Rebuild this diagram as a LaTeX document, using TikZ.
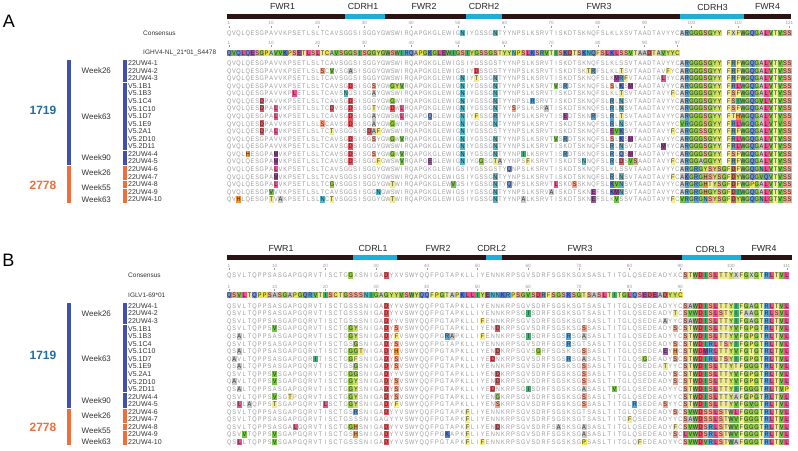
\documentclass[tikz,border=0pt]{standalone}
\usepackage{fontspec}
\setmainfont{Liberation Sans}
\newfontfamily\seqff{Liberation Sans}[FakeStretch=0.85]

% frame and group colours
\definecolor{barbrown}{HTML}{2B1414}
\definecolor{cdrcyan}{HTML}{1EAFD6}
\definecolor{grpblue}{HTML}{4352A8}
\definecolor{grporange}{HTML}{EE6E3C}
\definecolor{donorteal}{HTML}{1F6FA6}
\definecolor{seqgrey}{HTML}{9A9A9A}
\definecolor{seqdark}{HTML}{262626}
\definecolor{labgrey}{HTML}{333333}
% residue colours
\definecolor{aaA}{HTML}{C8C8C8}
\definecolor{aaR}{HTML}{5AA0D2}
\definecolor{aaN}{HTML}{56B6C4}
\definecolor{aaD}{HTML}{E2545C}
\definecolor{aaC}{HTML}{F2E24A}
\definecolor{aaQ}{HTML}{6C8FDC}
\definecolor{aaE}{HTML}{A64CA6}
\definecolor{aaG}{HTML}{9ACD4E}
\definecolor{aaH}{HTML}{F0943A}
\definecolor{aaI}{HTML}{3FAF6E}
\definecolor{aaL}{HTML}{E8508C}
\definecolor{aaK}{HTML}{4F75D8}
\definecolor{aaM}{HTML}{9B3D98}
\definecolor{aaF}{HTML}{F6EE8A}
\definecolor{aaP}{HTML}{EEE648}
\definecolor{aaS}{HTML}{F3A38C}
\definecolor{aaT}{HTML}{F1EA94}
\definecolor{aaW}{HTML}{76BC64}
\definecolor{aaY}{HTML}{CDE060}
\definecolor{aaV}{HTML}{72C244}
\definecolor{aaX}{HTML}{D6D6D6}

\tikzset{
  seqline/.style={inner sep=0pt, anchor=base west, font=\seqff\fontsize{6.6}{6.6}\selectfont, text=seqgrey},
  rulenum/.style={inner sep=0pt, font=\fontsize{4.6}{5}\selectfont, text=seqgrey},
  ruletick/.style={draw=seqgrey, line width=0.4pt},
  rowlabel/.style={inner sep=0pt, anchor=west, font=\fontsize{7}{8}\selectfont, text=labgrey},
  reflabel/.style={inner sep=0pt, anchor=west, font=\fontsize{6.5}{7}\selectfont, text=labgrey},
  weeklabel/.style={inner sep=0pt, anchor=west, font=\fontsize{8}{9}\selectfont, text=labgrey},
  regionlabel/.style={inner sep=0pt, font=\fontsize{8.8}{9}\selectfont, text=black!85},
  panellabel/.style={inner sep=0pt, font=\fontsize{18}{18}\selectfont},
  donorlabel/.style={inner sep=0pt, font=\bfseries\fontsize{12}{12}\selectfont},
}

% one row of residues in a single node: lowercase letters get a coloured box
\newcommand\seqrow[4]{%
  \def\aapitch{#3pt}%
  \pgfmathsetmacro\aaxs{#1-0.5*#3}%
  \pgfmathsetmacro\aaybase{#2+2.3}%
  \node[seqline] at (\aaxs,\aaybase) {\aaloop#4\relax};}
\def\aaloop#1{\ifx#1\relax\else\aaone#1\expandafter\aaloop\fi}
\def\aaone#1{%
  \ifx#1-%
    \hbox to \aapitch{}%
  \else
    \ifnum`#1>96
      \uppercase{\def\aachar{#1}}%
      \rlap{\color{aa\aachar}\rule[-1pt]{\aapitch}{6.6pt}}%
      \hbox to \aapitch{\hss\color{seqdark}\aachar\hss}%
    \else
      \hbox to \aapitch{\hss#1\hss}%
    \fi
  \fi}
\newcommand\rowA[2]{\pgfmathsetmacro\rowy{63.3+#1*7.56}\seqrow{229}{\rowy}{4.67}{#2}}
\newcommand\rowB[2]{\pgfmathsetmacro\rowy{306+#1*7.56}\seqrow{229}{\rowy}{5.07}{#2}}
% position ruler
\newcommand\ruler[4]{%
  \foreach \p in {#4}{%
    \pgfmathsetmacro\rx{#1+(\p-1)*#2}
    \node[rulenum] at (\rx,#3) {\p};
    \draw[ruletick] (\rx,#3+2.2) -- (\rx,#3+4.4);}}
% group bar over rows #4..#5
\newcommand\grpbar[5]{\fill[#1] (#2,{#3+#4*7.56-3.3}) rectangle ++(4.2,{(#5-#4)*7.56+6.6});}

\begin{document}
\begin{tikzpicture}[x=1pt,y=-1pt]
  % Canvas
  \useasboundingbox (0,0) rectangle (798,450);
  \fill[white] (0,0) rectangle (798,450);

  % Panel letters
  \node[panellabel] (panA) at (9,21.7) {A};
  \node[panellabel] (panB) at (8.5,260) {B};

  % Region bar, heavy chain
  \fill[barbrown] (227,13.8) rectangle (791,18.8);
  \fill[cdrcyan] (345,13.8) rectangle (385,18.8);
  \fill[cdrcyan] (466,13.8) rectangle (502,18.8);
  \fill[cdrcyan] (680,13.8) rectangle (743.5,18.8);
  \node[regionlabel] (fwr1A) at (282.5,6.3) {FWR1};
  \node[regionlabel] (cdr1A) at (363,6.3) {CDRH1};
  \node[regionlabel] (fwr2A) at (424,6.3) {FWR2};
  \node[regionlabel] (cdr2A) at (484,6.3) {CDRH2};
  \node[regionlabel] (fwr3A) at (599,6.3) {FWR3};
  \node[regionlabel] (cdr3A) at (712.5,7.5) {CDRH3};
  \node[regionlabel] (fwr4A) at (767.5,6.3) {FWR4};

  % Region bar, light chain
  \fill[barbrown] (227,254.5) rectangle (792,259.5);
  \fill[cdrcyan] (353,254.5) rectangle (397,259.5);
  \fill[cdrcyan] (486,254.5) rectangle (502,259.5);
  \fill[cdrcyan] (682,254.5) rectangle (741,259.5);
  \node[regionlabel] (fwr1B) at (281,248) {FWR1};
  \node[regionlabel] (cdr1B) at (373,248) {CDRL1};
  \node[regionlabel] (fwr2B) at (438,248) {FWR2};
  \node[regionlabel] (cdr2B) at (491.7,248) {CDRL2};
  \node[regionlabel] (fwr3B) at (580,248) {FWR3};
  \node[regionlabel] (cdr3B) at (710,249) {CDRL3};
  \node[regionlabel] (fwr4B) at (764,248) {FWR4};

  % Reference labels
  \node[reflabel] (consA) at (143,32.8) {Consensus};
  \node[reflabel] (germA) at (143,52.8) {IGHV4-NL\_21*01\_S4478};
  \node[reflabel] (consB) at (128,275.2) {Consensus};
  \node[reflabel] (germB) at (128,295) {IGLV1-69*01};

  % Sample names
  \foreach \nm [count=\k from 0] in {22UW4-1,22UW4-2,22UW4-3,V5.1B1,V5.1B3,V5.1C4,V5.1C10,V5.1D7,V5.1E9,V5.2A1,V5.2D10,V5.2D11,22UW4-4,22UW4-5,22UW4-6,22UW4-7,22UW4-8,22UW4-9,22UW4-10}{
    \node[rowlabel] (nmA\k) at (128,63.3+\k*7.56) {\nm};
    \node[rowlabel] (nmB\k) at (128,306+\k*7.56) {\nm};
  }

  % Donor and week bars
  \foreach \y in {63.3,306}{
    \grpbar{grpblue}{67}{\y}{0}{13}
    \grpbar{grporange}{67}{\y}{14}{18}
    \grpbar{grpblue}{123}{\y}{0}{2}
    \grpbar{grpblue}{123}{\y}{3}{11}
    \grpbar{grpblue}{123}{\y}{12}{13}
    \grpbar{grporange}{123}{\y}{14}{15}
    \grpbar{grporange}{123}{\y}{16}{16}
    \grpbar{grporange}{123}{\y}{17}{18}
  }

  % Week labels
  \node[weeklabel] (w26A) at (81.5,70.9) {Week26};
  \node[weeklabel] (w63A) at (81.5,116.2) {Week63};
  \node[weeklabel] (w90A) at (81.5,157.8) {Week90};
  \node[weeklabel] (v26A) at (81.5,172.9) {Week26};
  \node[weeklabel] (v55A) at (81.5,188) {Week55};
  \node[weeklabel] (v63A) at (81.5,199.4) {Week63};
  \node[weeklabel] (w26B) at (81.5,313.6) {Week26};
  \node[weeklabel] (w63B) at (81.5,358.9) {Week63};
  \node[weeklabel] (w90B) at (81.5,400.5) {Week90};
  \node[weeklabel] (v26B) at (81.5,415.6) {Week26};
  \node[weeklabel] (v55B) at (81.5,430.7) {Week55};
  \node[weeklabel] (v63B) at (81.5,442.1) {Week63};

  % Donor labels
  \node[donorlabel, text=donorteal] (d1719A) at (43,110.7) {1719};
  \node[donorlabel, text=grporange] (d2778A) at (43,185) {2778};
  \node[donorlabel, text=donorteal] (d1719B) at (43,355) {1719};
  \node[donorlabel, text=grporange] (d2778B) at (43,427.7) {2778};

  % Rulers
  \ruler{229}{4.67}{23.3}{1,10,20,30,40,50,60,70,80,90,100,110,121}
  \ruler{229}{4.67}{43}{1,10,20,30,40,50,60,70,80,90,97}
  \ruler{229}{5.07}{265.5}{1,10,20,30,40,50,60,70,80,90,100,111}
  \ruler{229}{5.07}{286.5}{1,10,20,30,40,50,60,70,80,90}

  % Heavy chain alignment
  \seqrow{229}{32.8}{4.67}{QVQLQESGPA VVKPSETLSL TCAVSGGSIS GGYGWSWIRQ APGKGLEWIG nIYGSSGnTY YNPSLKSRVT ISKDTSKNQF SLKLXSVTAA DTAVYYC argggsgyy- fxfwgqgalvtvss}
  \seqrow{229}{52.8}{4.67}{qvqlqesgpa vvkpsetlsl tcavsggsis ggygwswirq apgkglewig siygssgsty ynpslksrvt iskdtsknqf slklssvtaa dtavyyc}
  \rowA{0}{QVQLQESGPA VVKPSETLSL TCAVSGGSIS GGYGWSWIRQ APGKGLEWIG SIYGSSGSTY YNPSLKSRVT ISKDTSKNQF SLKLSSVTAA DTAVYYC argggsgyy- frfwgqgalvtvss}
  \rowA{1}{QVQLQESGPA VVKPSETLSL sCvVSGaSIS GGYGWSWIRQ APGKGLEWIG SIYdSSGSTY YNPSLKSRVT ISKDTSKtrF SLKLtSVTAA DTAVfYC argggsgyy- frfwgqgalvtvss}
  \rowA{2}{QVQLQESGPA VVKPSETLSL TCAVSGGSIS GGYGWSWIRQ APGKGLEWIG nIYtSSGnTY YNPSLKSRVT ISKDTSKNQF SLKmrfVTAA DTAlYYC argggsgyy- frfwgqgalvtvss}
  \rowA{3}{QVQLQESGPA VVKPSETLSL TCAVSGdSIS GsYGWgyvRQ APGKGLEWIG nIYGSSGnTY YNPSLKSRVT vSrDTSKNQF SLsLkSmTAA DTAVYYC argggsgyy- frlwgqgalvtvss}
  \rowA{4}{QVQLQESGPA VVKPlETLSL TCAVSnGSIS GaYGWSWIRQ APGKGLEWIG nIYGSSGnTY YNPSLKSRVT ISKDTSKNQF SLKLtSVTAA DTAVYfC argggsgyy- fsfwgqgalvtvss}
  \rowA{5}{QVQLQESdPA VVKPSETLSL TCAVSGdSIS GGYGWgWIRQ APGKGLEWIG nIYGSSGnTY YNPSLrSRVT ISKDTSKNQF SLrLnSVTAA DTAVYYC argggsgyy- fsiwgqgvlvtvss}
  \rowA{6}{QVQLQESdPA lVKPSETLSL TCdVSGdSIS GtYGWdWlRQ APGKGLEWIG nIYGSSGnTY YsPSLKSRaT ISKDTSKNQF SLrLnSVTAA DTAVYYC argggsgyy- fsfwgqgalvtvss}
  \rowA{7}{QVQLQESGPA lVKPSETLSL TCAVSGdSIS GaYGWSWlRQ APGqGLEWIG nIYfSSGrTY YNPSLKSRVT ISeDTSKNrF SLrLtSVTAA DTAVYYC argggsgyy- fthwgqgalvtvss}
  \rowA{8}{QVQLQESdPA VVKPSETLSL sCAVSGdSIS GaYGWgWIRQ APGKGLEWIG nIYGSSGnTY YNPSLKSRVT ISKDTSKNQF SLrLnSVTAA DTAVYYC vrgggsgyy- frlwgqgalvtvss}
  \rowA{9}{QVQLQESdPA lVKPSETLSL TCtVSGGSIS dafGWSWIRQ APGKGLEWIG nIYGSSGSTY YNPSLKSRVT ISKDTSKNQF SLevkSVTAA DTAVYfC arggssgyy- frfwgqgalvtvss}
  \rowA{10}{QVQLQESGPA VVKPSETLSL TCAVSGdSIS GsYGWgWvRQ APGKGLEWIG nIYGSSGnTY YNPSLKSRVT vSrDTSKNQF SLsLkSmTAA DTAVYYC argggsgyy- frlwgqgalvtvss}
  \rowA{11}{QVQLQESGPA VVKPSETLSL TCAVSGdSIS GGYGWSWIRQ APGKGLEWIG nIYGSSGnTY YNPSLKSRVT ISKDTSKNQF SLrLnSVTAA DTAmYYC argggsgyy- frlwgqgalvtvss}
  \rowA{12}{QVQLhESGPA mVKPSETLSL TCAVSGdSIS GsYGWgWvRQ APGKGLEWIG nIYGSSGnTY YNPiLKSRVT ISrDTSKNQF SLrLqSmTAA DTAVYYC argggsgyy- fsfwgqgalvtvss}
  \rowA{13}{QVQLQESGPA mVKPSETLSL TCAVSGdSIS GGfGWSWvRQ APGeGLEWIG nIYGgSGtaY YNPSfKSRVT ISKDTSnNQF SLrLdSvsAA DTAVYfC arggaggyy- frfwgqgalvtvss}
  \rowA{14}{QVQLQESGPA lVKPSETLSL TCAVSGGSIS GGYGWSWIRQ APGKGLEWIG SIYGSSGSTY qNPSLKSRVT ISKDTSKNQF SLKLSSVTAA DTAVYYC argrgysysgfdfwgqgnlvtvss}
  \rowA{15}{QVQLQESGPA mVKPSETLSL TCAVSGGSIS GGYGWSWIRQ APGKGLEWIG SIYGSSGnTY YNPSLKSRVT ISKDTSKNQF SLrLnSVTAA DTAVYfC akgrghsysgfdywgqgvqvtvss}
  \rowA{16}{QVQLQESGPA lVKPSETLSL TCgVSGGSIS GGYGWtWIRQ APGKGLEWvG SIYGSSGnTY qNPSLKSRVT lSKDsSKNQF SLkvnSVTAA DTAVYYC argrghtysgfdfwgpgalvtvss}
  \rowA{17}{QVQLQESGPv VVKPSETLSL TCAVSGGSIS GGnGWSWIRQ APGKGLEWIG SIYGSSGnTY YNPSLKSRVa ISKDTSKNeF SLkmnSVTAA DTAVYYC argrghgysgfdiwgqgalvtvss}
  \rowA{18}{QVhLQESGPt VaKPSETLSL nCtVSGGSIS GGYGWtWIRQ APGKGLEWIG SIYGSSGnTY YNPaLKSRVT ISKDTSKNeF SLKvSSVTAA DTAVYfC vrgrgnsysgfdywgqgnlgtvss}

  % Light chain alignment
  \seqrow{229}{275.2}{5.07}{QSVLTQPPSA SGAPGQRVTI SCTGgXSNIG AdYXVSWYQQ FPGTAPKLLI YENNKRPSGV SDRFSGSKSG XSASLTITGL QSEDEADYXC stwdislttyxfgxgtrltvl}
  \seqrow{229}{295}{5.07}{qsvltqppsa sgapgqrvti sctgsssnig agyyvswyqq fpgtapklli yennkrpsgv sdrfsgsksg tsasltitgl qsedeadyyc}
  \rowB{0}{QSVLTQPPSA SGAPGQRVTI SCTGSSSNIG AdYYVSWYQQ FPGTAPKLLI YENNKRPSGV SDRFSGSKSG TSASLTITGL QSEDEADYYC sawdislttyifgagtrltvl}
  \rowB{1}{QSVLTQPPSA SGAPGQRVTI SCTGSSSNIG AdYYVSWYQQ FPGTAPKLLI YENNKRPSGi SDRFSGSKSG TSASLTITGL QSEDEADYtC svwdislstyifaagtrlsvl}
  \rowB{2}{QSVLTQPPSA SGAPGQRVTI SCTGSSSNIG AdYYVSWYQQ FPGTAPKLLI fENNKRPSGV SDRFSGSKSG TSASLTITGL QSEDEAaYYC sawdislttyifgagtrltvl}
  \rowB{3}{QSVLTQPPSv SGAPGQRVTI SCTGgySNIG AdYsVSWYQQ FPGTAPKLLI YENdKRPSGV SDRFSGSKSG sSASLTITGL QSEDEADYsC stwdislttyvfgpgtrltvl}
  \rowB{4}{QSaLTQPPSA SGAPGQRVTI SCTGgySNIG AdYfVSWYQQ FPGraPKLLI fENNKRPSGi SDRFSGSrSG aSASLTITGL QSEDEADYYC stwdislttyvfgpgtrltvl}
  \rowB{5}{QSVLTQPPSA SGAPGQRVTI SCTGSgSNIG AdYsVSWYQQ FPGTAPKLLI YENNKRPSGV SDRFSGSrSG TSASLTITGL QSEDEADYsC stwdirltsyifgpgtrltvl}
  \rowB{6}{QSaLTQPPSA SGAPGQRVTI SCTGggtNIG AdYhVSWYQQ FPGTAPKLLI YENdKRPSGV SgRFSGSKSG sSASLTITGL QSEDEAeYhC stwdmrlttyvfgtgtrltvl}
  \rowB{7}{QaVLTQPPSA SGAPGQRiTI SCTGgfSNIG AdYsVSWYQQ FPGTAPKLLI YEdNKRPSGV SDRFSGSrSG aSASLTITGL QSgDEADYsC stwdirltsyifgpgtrltvl}
  \rowB{8}{QSaLTQPPSA SGAPGQRVTI SCTGSgSNIG AdYsVSWYQQ FPGTAPKLLI YENNKRPSGV SDRFSGSKSG sSASLTITGL QSEDEAtYYC stwdislttytfgggtrltvl}
  \rowB{9}{QSVLTQPPSv SGAPGQRVTI SCTGggSNIG AdYYVSWYQQ FPGTAPKLLI YENdKRPSGV SDRFSGSKSG sSASLTITGL QSEDEADYsC stwdislttyvfgpgtrltvl}
  \rowB{10}{QaVLTQPPSv SGAPGQRVTI SCTGgySNIG AdYsVSWYQQ FPGTAPKLLI YENdKRPSGV SDRFSGSKSG sSASLTITGL QSEDEADYsC stwdislttyvfgpgtrltvl}
  \rowB{11}{QSaLTQPPSA SGAPGQRVTI SCTGgySNIG AdYsVSWYQQ FPGTAPKLLI YEdNKRPSGi SDRFSGSKSG aSASLTvTGL QSEDEADYYC stwdislttyifgggtrltvp}
  \rowB{12}{QSVLTQPPSv SGtPGQRVTI SCTGgySNIG AdYsVSWYQQ FPGTAPKLLI YENgKRPSGV SDRFSGSKSG sSASLTITGL QSEDEADYYC stwdislttyafgpgtrltvl}
  \rowB{13}{QSlLaQPPSt SGAPGQRVTl SCTGgySNIG AdYfVSWYQQ FPGTAPKLLI YENsKRPSGV SDRFSGSKSG sSASLTITGL rSEDEAsYYC stwdislttyvfgvgtrltvl}
  \rowB{14}{QSVLTQPPSA SGAPGQRVTI SCTGSrSNIG AdYYVSWYQQ FPGTAPKfLI YENNKRPSGV SDRFSGSKSG TSASLTITGL QSEDEADYsC svwdsslstwlfgggtrltvl}
  \rowB{15}{QSVLTQPPSA SGAPGQRVTI SCTGSSSNIG AGYYVSWYQQ FPGTAPKfLI YENNKRPSGV SDRFSGSKSG TSASLTITGf QSEDEADYYC sawdsslstwvfgggtrltvl}
  \rowB{16}{QSVLTQPPSA SGAlGQRVTI SCTGghSNIG AdYYVSWYQQ FPGTAPKfLI YENdKRPSGV SDRFSaSKSG aSASLTITGL QSEDEADYfC svwdsrlstwvfgggtrltvl}
  \rowB{17}{QSVvTQPPSv SGAPGQRVTI SCTGShSNIG AdYYVSWYQQ FPGkAPKfLI YENNKRPSGV SDRFSGSKSG aSASLTITGL QSEDEADYsC lvwdsrlstwvfgggtrltvl}
  \rowB{18}{QSlLTQPPSv SGAPGQRVTI SCTGSSSNIG AdYYVSWYQQ FPGTAPKfLI fENNKRPSGV SDRFSGSKSG pSASLTITGL QfEDEADYYC svwdvrlstwafgggtrltvl}
\end{tikzpicture}
\end{document}
